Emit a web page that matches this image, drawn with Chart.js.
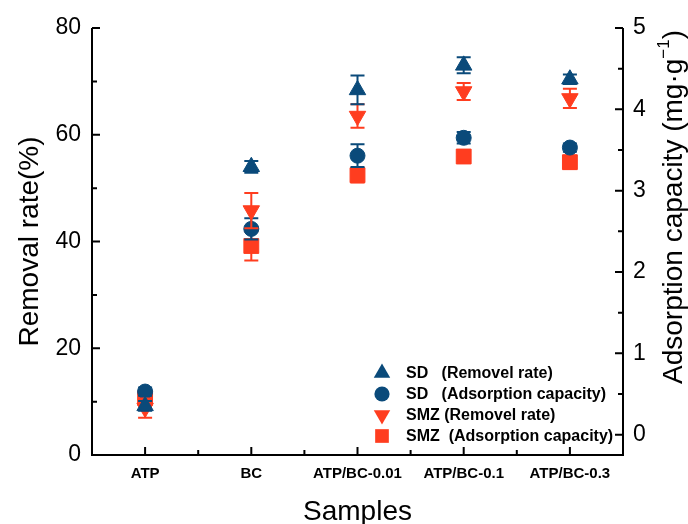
<!DOCTYPE html>
<html>
<head>
<meta charset="utf-8">
<script src="https://cdn.jsdelivr.net/npm/chart.js@4.4.1/dist/chart.umd.min.js"></script>
<style>
  html, body { margin: 0; padding: 0; background: #fff; }
</style>
</head>
<body>
<canvas id="myChart" width="688" height="524"></canvas>
<script>
// data
const samples = ['ATP', 'BC', 'ATP/BC-0.01', 'ATP/BC-0.1', 'ATP/BC-0.3'];
const sdRemoval = [9.2, 54.0, 68.4, 73.0, 70.4];
const sdRemovalErr = [0.9, 1.1, 2.7, 1.5, 0.9];
const smzRemoval = [8.8, 45.8, 63.5, 68.1, 66.8];
const smzRemovalErr = [1.8, 3.3, 2.2, 1.6, 1.8];
const sdCapacity = [0.53, 2.53, 3.43, 3.65, 3.53];
const sdCapacityErr = [0.05, 0.13, 0.14, 0.07, 0.05];
const smzCapacity = [0.45, 2.32, 3.19, 3.42, 3.35];
const smzCapacityErr = [0.09, 0.18, 0.09, 0.05, 0.08];
const leftTicks = [0, 20, 40, 60, 80];
const rightTicks = [0, 1, 2, 3, 4, 5];

const BLUE = '#0a4a7a';
const RED = '#ff3d1f';
const FONT = "'Liberation Sans', Arial, sans-serif";

const seriesLegend = [
  { text: 'SD   (Removel rate)', color: BLUE, shape: 'up' },
  { text: 'SD   (Adsorption capacity)', color: BLUE, shape: 'circle' },
  { text: 'SMZ (Removel rate)', color: RED, shape: 'down' },
  { text: 'SMZ  (Adsorption capacity)', color: RED, shape: 'square' },
];

function shape(ctx, kind, x, y, r) {
  ctx.beginPath();
  const h = r * Math.sin(Math.PI / 3);
  if (kind === 'up') {
    ctx.moveTo(x, y - r); ctx.lineTo(x + h, y + r / 2); ctx.lineTo(x - h, y + r / 2);
  } else if (kind === 'down') {
    ctx.moveTo(x, y + r); ctx.lineTo(x + h, y - r / 2); ctx.lineTo(x - h, y - r / 2);
  } else if (kind === 'circle') {
    ctx.arc(x, y, r * 0.8, 0, Math.PI * 2);
  } else {
    ctx.rect(x - r * 0.72, y - r * 0.72, r * 1.44, r * 1.44);
  }
  ctx.closePath();
  ctx.fill();
}

const decor = {
  id: 'decor',
  beforeDatasetDraw(chart, args) {
    const ds = chart.data.datasets[args.index];
    const ys = chart.scales[ds.yAxisID];
    const ctx = chart.ctx;
    ctx.save();
    ctx.strokeStyle = ds.pointBackgroundColor;
    ctx.lineWidth = 2;
    args.meta.data.forEach((pt, i) => {
      const v = ds.data[i], e = ds.errors[i];
      const t = ys.getPixelForValue(v + e), b = ys.getPixelForValue(v - e);
      ctx.beginPath();
      ctx.moveTo(pt.x, t); ctx.lineTo(pt.x, b);
      ctx.moveTo(pt.x - 7, t); ctx.lineTo(pt.x + 7, t);
      ctx.moveTo(pt.x - 7, b); ctx.lineTo(pt.x + 7, b);
      ctx.stroke();
    });
    ctx.restore();
  },
  afterDraw(chart) {
    const ctx = chart.ctx;
    const { left, right, top, bottom } = chart.chartArea;
    const y = chart.scales.y, y1 = chart.scales.y1, x = chart.scales.x;
    ctx.save();
    ctx.strokeStyle = '#000';
    ctx.lineWidth = 2;
    ctx.beginPath();
    ctx.moveTo(left, top); ctx.lineTo(left, bottom); ctx.lineTo(right, bottom); ctx.lineTo(right, top);
    // left ticks
    for (let v = 0; v <= 80; v += 10) {
      const p = y.getPixelForValue(v);
      ctx.moveTo(left, p); ctx.lineTo(left + (v % 20 === 0 ? 8 : 5), p);
    }
    // right ticks
    for (let v = 0; v <= 5; v += 0.5) {
      const p = y1.getPixelForValue(v);
      ctx.moveTo(right, p); ctx.lineTo(right - (v % 1 === 0 ? 8 : 5), p);
    }
    // bottom ticks
    samples.forEach((s, i) => {
      const p = x.getPixelForValue(i);
      ctx.moveTo(p, bottom); ctx.lineTo(p, bottom - 8);
      if (i > 0) {
        const m = (p + x.getPixelForValue(i - 1)) / 2;
        ctx.moveTo(m, bottom); ctx.lineTo(m, bottom - 5);
      }
    });
    ctx.stroke();

    // right axis title, reading upward, with superscript
    ctx.translate(674, 207);
    ctx.rotate(-Math.PI / 2);
    ctx.fillStyle = '#000';
    ctx.textBaseline = 'middle';
    ctx.font = '28px ' + FONT;
    const main = 'Adsorption capacity (mg\u00b7g';
    ctx.font = '17px ' + FONT;
    const supW = ctx.measureText('\u22121').width;
    ctx.font = '28px ' + FONT;
    const total = ctx.measureText(main).width + supW + ctx.measureText(')').width;
    let cx = -total / 2;
    ctx.textAlign = 'left';
    ctx.fillText(main, cx, 0);
    cx += ctx.measureText(main).width;
    ctx.font = '17px ' + FONT;
    ctx.fillText('\u22121', cx, -10);
    cx += supW;
    ctx.font = '28px ' + FONT;
    ctx.fillText(')', cx, 0);
    ctx.restore();

    // legend inside plot
    ctx.save();
    ctx.font = 'bold 16px ' + FONT;
    ctx.textBaseline = 'middle';
    ctx.textAlign = 'left';
    seriesLegend.forEach((item, i) => {
      const ly = 373 + i * 21;
      ctx.fillStyle = item.color;
      shape(ctx, item.shape, 382, ly, 9.5);
      ctx.fillStyle = '#000';
      ctx.fillText(item.text, 406, ly + 1);
    });
    ctx.restore();
  }
};

function series(label, data, errors, color, style, axis, rotation, radius) {
  return {
    label, data, errors,
    yAxisID: axis,
    showLine: false,
    pointStyle: style,
    pointRotation: rotation,
    pointRadius: radius,
    pointBackgroundColor: color,
    pointBorderColor: color,
    pointBorderWidth: 1,
    borderColor: color,
  };
}

new Chart(document.getElementById('myChart').getContext('2d'), {
  type: 'line',
  data: {
    labels: samples,
    datasets: [
      series('SD (Removel rate)', sdRemoval, sdRemovalErr, BLUE, 'triangle', 'y', 0, 9.5),
      series('SMZ (Removel rate)', smzRemoval, smzRemovalErr, RED, 'triangle', 'y', 180, 9.5),
      series('SD (Adsorption capacity)', sdCapacity, sdCapacityErr, BLUE, 'circle', 'y1', 0, 7.5),
      series('SMZ (Adsorption capacity)', smzCapacity, smzCapacityErr, RED, 'rect', 'y1', 0, 10.5),
    ]
  },
  options: {
    responsive: false,
    animation: false,
    layout: { padding: { top: 28, left: 0, right: 0, bottom: 0 } },
    plugins: { legend: { display: false }, tooltip: { enabled: false } },
    scales: {
      x: {
        offset: true,
        grid: { display: false, drawTicks: false },
        border: { display: false },
        ticks: { color: '#000', font: { family: FONT, size: 15, weight: 'bold' }, padding: 10, maxRotation: 0, autoSkip: false },
        title: { display: true, text: 'Samples', color: '#000', font: { family: FONT, size: 28, lineHeight: 1 }, padding: { top: 0, bottom: -2 } },
        afterFit(s) { s.height = 69; }
      },
      y: {
        position: 'left',
        min: 0, max: 80,
        grid: { display: false, drawTicks: false },
        border: { display: false },
        afterBuildTicks(s) { s.ticks = leftTicks.map(v => ({ value: v })); },
        ticks: { color: '#000', font: { family: FONT, size: 23 }, padding: 11 },
        title: { display: true, text: 'Removal rate(%)', color: '#000', font: { family: FONT, size: 28, lineHeight: 1 }, padding: { top: 16, bottom: 0 } },
        afterFit(s) { s.width = 92; }
      },
      y1: {
        position: 'right',
        min: -0.25, max: 5,
        grid: { display: false, drawTicks: false },
        border: { display: false },
        afterBuildTicks(s) { s.ticks = rightTicks.map(v => ({ value: v })); },
        ticks: { color: '#000', font: { family: FONT, size: 23 }, padding: 10 },
        afterFit(s) { s.width = 65; }
      }
    }
  },
  plugins: [decor]
});
</script>
</body>
</html>
